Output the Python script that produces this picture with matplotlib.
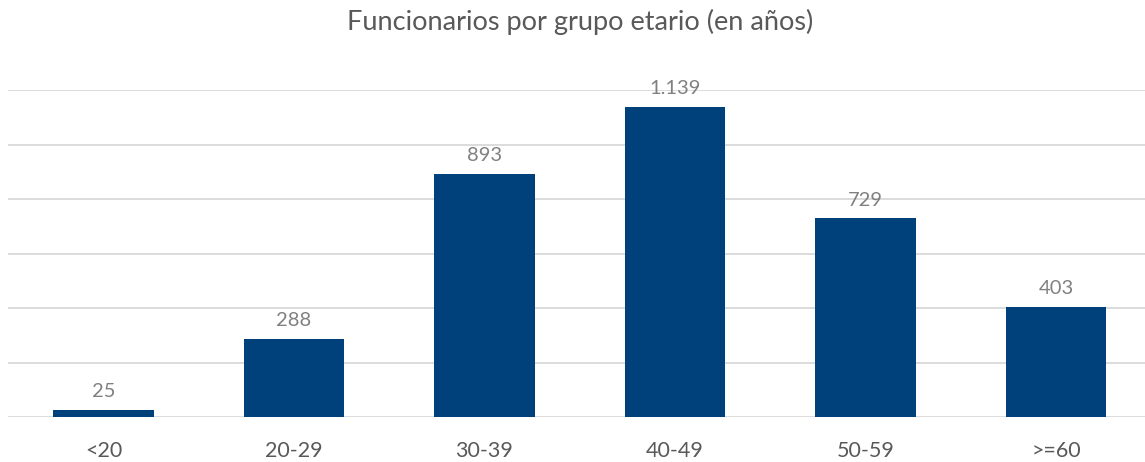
import matplotlib.pyplot as plt
import numpy as np

grupos = ['<20', '20-29', '30-39', '40-49', '50-59', '>=60']
funcionarios = [25, 288, 893, 1139, 729, 403]
etiquetas = ['25', '288', '893', '1.139', '729', '403']
yticks = [0, 200, 400, 600, 800, 1000, 1200]

plt.rcParams['font.family'] = ['Lato', 'DejaVu Sans']

fig = plt.figure(figsize=(11.45, 4.62), dpi=100)
# axes run slightly past the right edge of the canvas
ax = fig.add_axes([8.25 / 1145, 45 / 462, 1143 / 1145, 327 / 462])

x = np.arange(len(grupos))
bars = ax.bar(x, funcionarios, width=0.53, color='#00417C', zorder=3)

for b, lab in zip(bars, etiquetas):
    ax.annotate(lab, (b.get_x() + b.get_width() / 2, b.get_height()),
                xytext=(0, 7), textcoords='offset points',
                ha='center', va='bottom', fontsize=14.5, color='#808080',
                annotation_clip=False)

ax.set_xlim(-0.5, len(grupos) - 0.5)
ax.set_ylim(0, 1200)
ax.set_yticks(yticks)
ax.yaxis.grid(True, color='#D9D9D9', linewidth=1.3, zorder=0)
ax.tick_params(axis='y', left=False, labelleft=False)
ax.tick_params(axis='x', length=0, pad=17, labelsize=15.5, labelcolor='#595959')
ax.set_xticks(x)
ax.set_xticklabels(grupos)
for s in ax.spines.values():
    s.set_visible(False)

fig.text(580 / 1145, 1 - 22 / 462, 'Funcionarios por grupo etario (en años)',
         ha='center', va='center', fontsize=19.5, color='#595959')

fig.savefig('out.png', dpi=100)
